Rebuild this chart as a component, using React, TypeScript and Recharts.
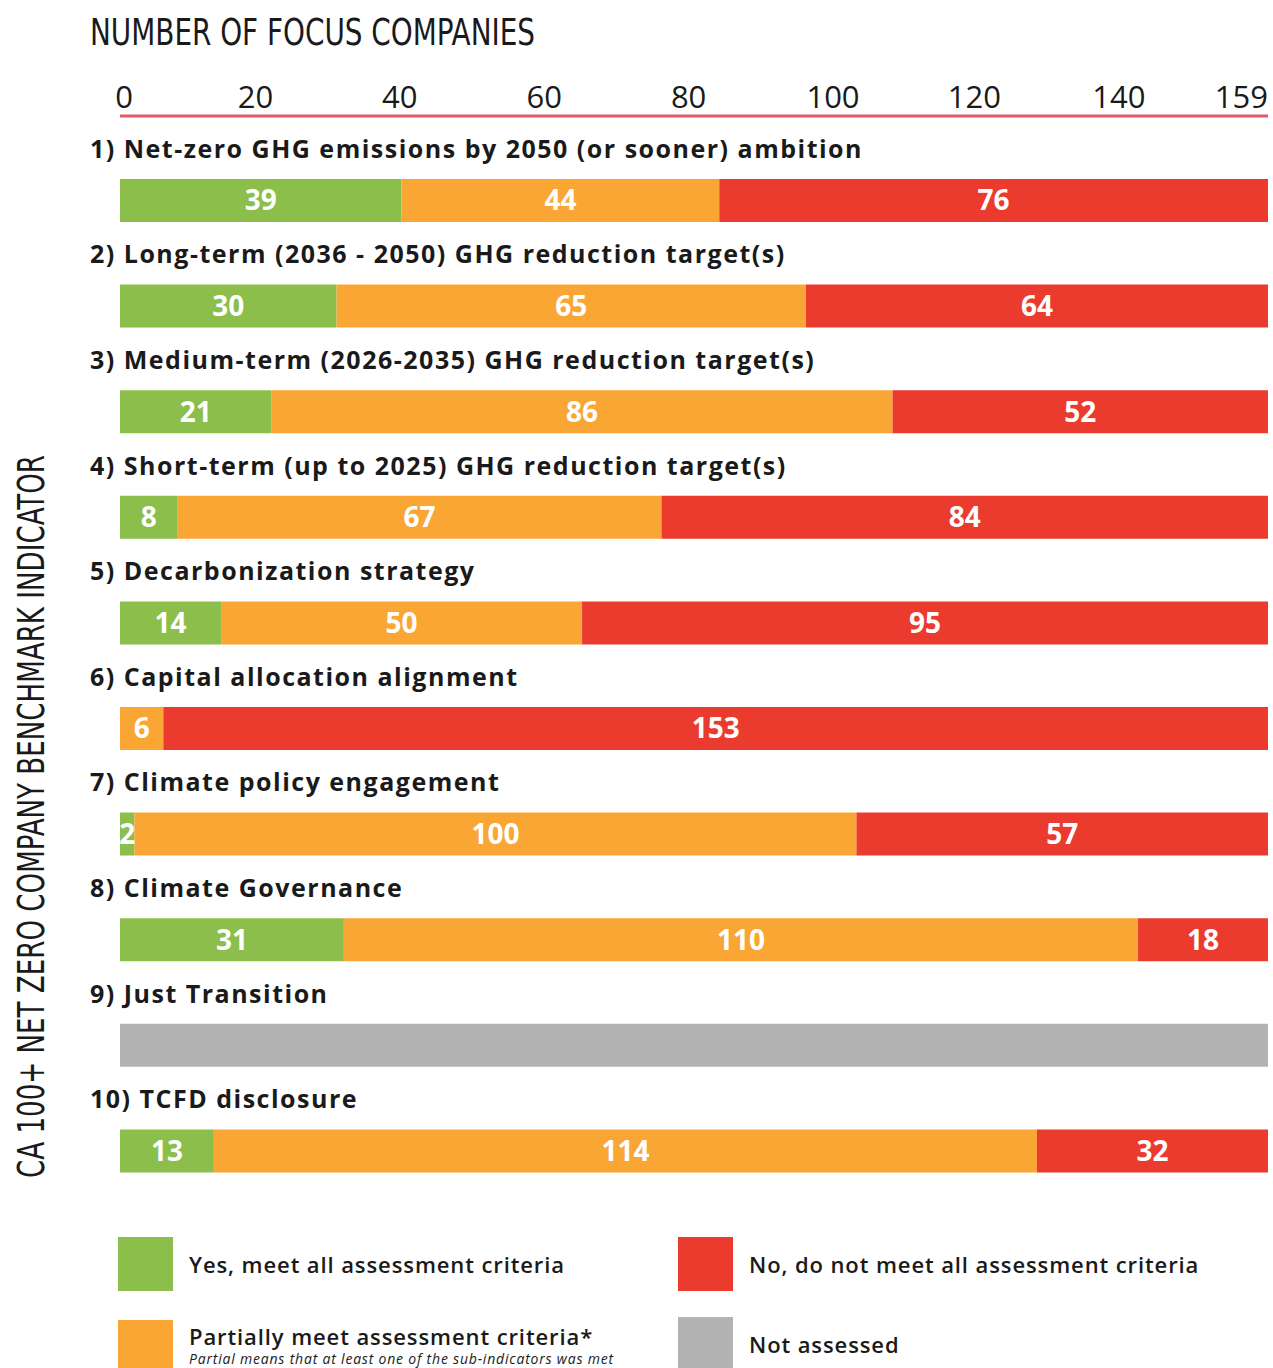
import React from "react";
import { BarChart, Bar, XAxis, YAxis, LabelList } from "recharts";

const categories = [
  "1)  Net-zero GHG emissions by 2050 (or sooner) ambition",
  "2) Long-term (2036 - 2050) GHG reduction target(s)",
  "3) Medium-term (2026-2035) GHG reduction target(s)",
  "4) Short-term (up to 2025) GHG reduction target(s)",
  "5) Decarbonization strategy",
  "6) Capital allocation alignment",
  "7) Climate policy engagement",
  "8) Climate Governance",
  "9) Just Transition",
  "10) TCFD disclosure",
];
const yesMeet = [39, 30, 21, 8, 14, null, 2, 31, null, 13];
const partialMeet = [44, 65, 86, 67, 50, 6, 100, 110, null, 114];
const noMeet = [76, 64, 52, 84, 95, 153, 57, 18, null, 32];
const notAssessed = [null, null, null, null, null, null, null, null, 159, null];
const xTicks = [0, 20, 40, 60, 80, 100, 120, 140, 159];

const GREEN = "#8BBE4B";
const ORANGE = "#FAA634";
const RED = "#EA3B2E";
const GREY = "#B3B3B3";
const FONT = "'Open Sans', 'DejaVu Sans', sans-serif";
const NARROW = "'Liberation Sans Narrow', 'DejaVu Sans Condensed', 'Roboto', sans-serif";

if (typeof document !== "undefined") {
  document.body.style.margin = "0";
  document.body.style.overflow = "hidden";
}

const data = categories.map((name, i) => ({
  name,
  yes: yesMeet[i],
  partial: partialMeet[i],
  no: noMeet[i],
  na: notAssessed[i],
}));

const TopTick = (props: any) => {
  const { x, y, payload } = props;
  const v = payload.value;
  const anchor = v === 159 ? "end" : "middle";
  const dx = v === 0 ? 4 : v === 159 ? 0 : v >= 120 ? -12 : -9;
  return (
    <text x={x + dx} y={y} textAnchor={anchor} fontFamily={FONT} fontSize={31} fill="#1a1a1a">
      {v}
    </text>
  );
};

// indicator names sit above each bar, at the left edge
const CatTick = (props: any) => {
  const { y, payload } = props;
  return (
    <text
      x={90}
      y={y - 53}
      dominantBaseline="central"
      fontFamily={FONT}
      fontWeight={700}
      fontSize={25}
      letterSpacing={1.5}
      fill="#1a1a1a"
    >
      {payload.value}
    </text>
  );
};

const fmt = (v: any) => (v ? String(v) : "");

const labelProps = {
  position: "center" as const,
  fill: "#fff",
  fontFamily: FONT,
  fontWeight: 700,
  fontSize: 28,
  formatter: fmt,
};

const legendText = {
  fontFamily: FONT,
  fontSize: 22,
  fontWeight: 600,
  letterSpacing: 0.9,
  color: "#1a1a1a",
} as const;

const LegendItem = ({ color, text, left, top }: { color: string; text: string; left: number; top: number }) => (
  <div style={{ position: "absolute", left, top, display: "flex", alignItems: "center" }}>
    <div style={{ width: 55, height: 54, background: color }} />
    <div style={{ marginLeft: 16, ...legendText }}>{text}</div>
  </div>
);

export default function App() {
  return (
    <div style={{ position: "relative", width: 1273, height: 1368, background: "#fff", overflow: "hidden" }}>
      <svg width={1273} height={1368} style={{ position: "absolute", left: 0, top: 0 }}>
        <text x={90} y={45} fontFamily={NARROW} fontSize={38} fill="#1a1a1a" textLength={445} lengthAdjust="spacingAndGlyphs">
          NUMBER OF FOCUS COMPANIES
        </text>
        <text
          x={0}
          y={0}
          transform="translate(44,1178) rotate(-90)"
          fontFamily={NARROW}
          fontSize={38}
          fill="#1a1a1a"
          textLength={723}
          lengthAdjust="spacingAndGlyphs"
        >
          CA 100+ NET ZERO COMPANY BENCHMARK INDICATOR
        </text>
      </svg>
      <div style={{ position: "absolute", left: 0, top: 0 }}>
        <BarChart
          width={1273}
          height={1368}
          data={data}
          layout="vertical"
          margin={{ top: 76, left: 90, right: 5, bottom: 164 }}
          barSize={43}
        >
          <XAxis
            type="number"
            orientation="top"
            domain={[0, 159]}
            ticks={xTicks}
            interval={0}
            height={40}
            tickLine={false}
            axisLine={{ stroke: "#E4586A", strokeWidth: 3 }}
            tick={<TopTick />}
          />
          <YAxis
            type="category"
            dataKey="name"
            width={30}
            padding={{ top: 32, bottom: 0 }}
            axisLine={false}
            tickLine={false}
            tick={<CatTick />}
            interval={0}
          />
          <Bar dataKey="yes" stackId="a" fill={GREEN} isAnimationActive={false}>
            <LabelList dataKey="yes" {...labelProps} />
          </Bar>
          <Bar dataKey="partial" stackId="a" fill={ORANGE} isAnimationActive={false}>
            <LabelList dataKey="partial" {...labelProps} />
          </Bar>
          <Bar dataKey="no" stackId="a" fill={RED} isAnimationActive={false}>
            <LabelList dataKey="no" {...labelProps} />
          </Bar>
          <Bar dataKey="na" stackId="a" fill={GREY} isAnimationActive={false} />
        </BarChart>
      </div>
      <LegendItem color={GREEN} text="Yes, meet all assessment criteria" left={118} top={1237} />
      <LegendItem color={RED} text="No, do not meet all assessment criteria" left={678} top={1237} />
      <LegendItem color={GREY} text="Not assessed" left={678} top={1317} />
      <div style={{ position: "absolute", left: 118, top: 1320, display: "flex" }}>
        <div style={{ width: 55, height: 54, background: ORANGE }} />
        <div style={{ marginLeft: 16, fontFamily: FONT, color: "#1a1a1a" }}>
          <div style={{ ...legendText, marginTop: 1, lineHeight: "30px" }}>Partially meet assessment criteria*</div>
          <div style={{ fontSize: 14, fontStyle: "italic", letterSpacing: 0.8, lineHeight: "15px" }}>
            Partial means that at least one of the sub-indicators was met
          </div>
        </div>
      </div>
    </div>
  );
}
